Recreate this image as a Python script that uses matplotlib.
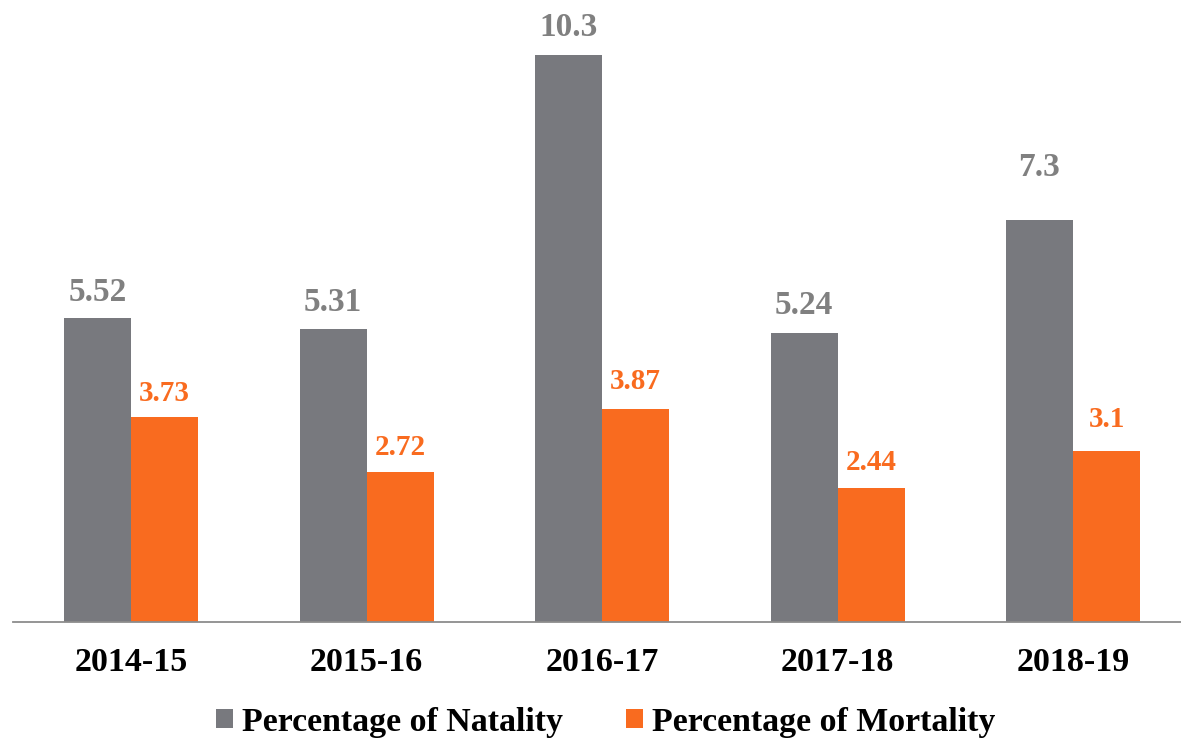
import matplotlib
matplotlib.use("Agg")
import matplotlib.pyplot as plt
from matplotlib.patches import Patch
import numpy as np

years = ["2014-15", "2015-16", "2016-17", "2017-18", "2018-19"]
natality = [5.52, 5.31, 10.3, 5.24, 7.3]
mortality = [3.73, 2.72, 3.87, 2.44, 3.1]
natality_labels = ["5.52", "5.31", "10.3", "5.24", "7.3"]
mortality_labels = ["3.73", "2.72", "3.87", "2.44", "3.1"]

# label offsets above the bar tops (points), as placed in the original
nat_offsets = [12.2, 13.0, 13.0, 13.7, 31.7]
mort_offsets = [11.5, 12.0, 13.9, 12.7, 17.3]

GRAY = "#78797E"
ORANGE = "#F96B1F"
GRAY_TXT = "#808080"
FONT = "Liberation Serif"

W, H = 1181, 746
fig = plt.figure(figsize=(W / 100, H / 100), dpi=100)
ax = fig.add_axes([13 / W, 124 / H, 1 - 13 / W, 622 / H])

x = np.arange(len(years))
step = 235.5
bw = 67 / step
ax.bar(x - bw / 2, natality, bw, color=GRAY, zorder=2)
ax.bar(x + bw / 2, mortality, bw, color=ORANGE, zorder=2)

ax.set_xlim((13 - 131) / step, (1181 - 131) / step)
ax.set_ylim(0, 11.29)

for xi, v, s, off in zip(x, natality, natality_labels, nat_offsets):
    ax.annotate(s, (xi - bw / 2, v), xytext=(0, off), textcoords="offset points",
                ha="center", va="baseline", fontsize=24, fontweight="bold",
                color=GRAY_TXT, family=FONT, annotation_clip=False)
for xi, v, s, off in zip(x, mortality, mortality_labels, mort_offsets):
    ax.annotate(s, (xi + bw / 2, v), xytext=(0, off), textcoords="offset points",
                ha="center", va="baseline", fontsize=21, fontweight="bold",
                color=ORANGE, family=FONT, annotation_clip=False)

ax.set_xticks(x)
ax.set_xticklabels(years, fontsize=24.5, fontweight="bold", family=FONT, color="black")
ax.tick_params(axis="x", length=0, pad=18)
ax.set_yticks([])
for sp in ["top", "left", "right"]:
    ax.spines[sp].set_visible(False)
ax.spines["bottom"].set_color("#8C8C8C")
ax.spines["bottom"].set_linewidth(1.3)
ax.patch.set_visible(False)

handles = [Patch(facecolor=GRAY, edgecolor="none", label="Percentage of Natality"),
           Patch(facecolor=ORANGE, edgecolor="none", label="Percentage of Mortality")]
fig.legend(handles=handles, loc="center", bbox_to_anchor=(606 / W, 1 - 722 / H),
           ncol=2, frameon=False, prop={"family": FONT, "weight": "bold", "size": 24.4},
           handlelength=0.5, handleheight=0.5, handletextpad=0.27,
           columnspacing=1.86, borderpad=0, borderaxespad=0)

fig.savefig("out.png", dpi=100)
